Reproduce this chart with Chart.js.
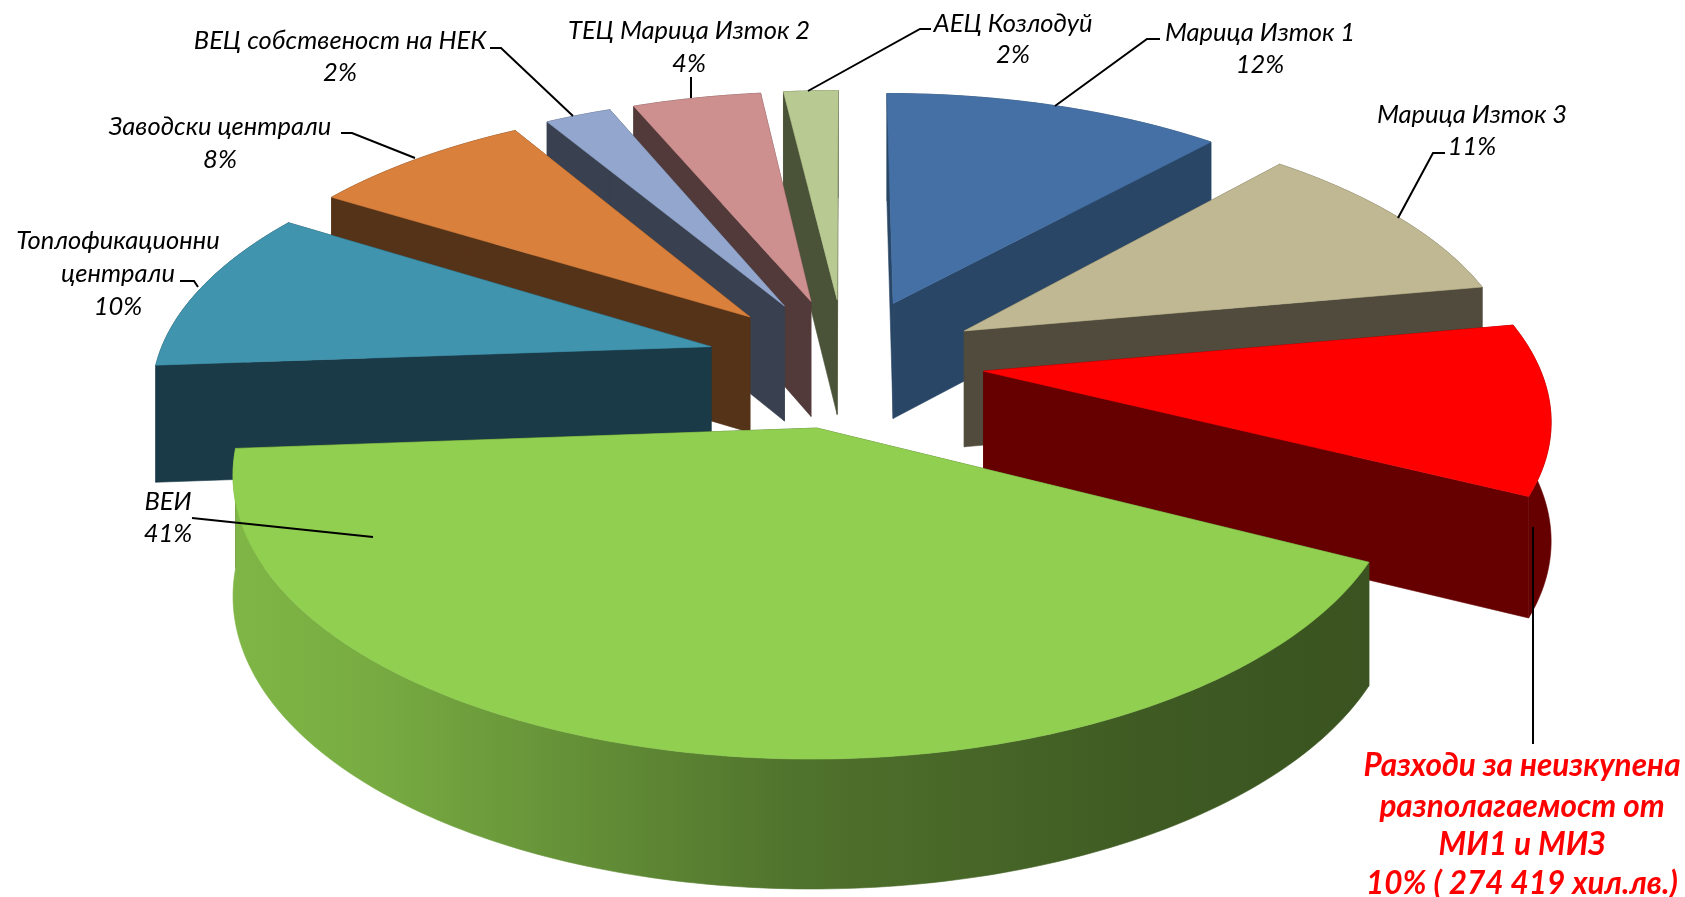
<!DOCTYPE html>
<html><head><meta charset="utf-8">
<style>html,body{margin:0;padding:0;background:#fff;overflow:hidden}#w{width:1685px;height:897px;position:relative}</style>
<script src="https://cdn.jsdelivr.net/npm/chart.js@4"></script>
</head><body><div id="w"><canvas id="c" width="1685" height="897"></canvas></div>
<script>
const categories = ['Марица Изток 1','Марица Изток 3','Разходи за неизкупена разполагаемост от МИ1 и МИЗ','ВЕИ','Топлофикационни централи','Заводски централи','ВЕЦ собственост на НЕК','ТЕЦ Марица Изток 2','АЕЦ Козлодуй'];
const shares = [11.65,10.45,10.28,41.47,9.99,7.59,2.28,4.42,1.87];
const sliceColors = ['#4570a5','#bfb892','#ff0000','#90cf50','#4094ae','#d8803c','#93a7ce','#ce8f8f','#b8ca91'];
const wallColors = ['#294666','#504b3c','#660000','#3c5220','#1a3a47','#553318','#39404f','#533a3a','#4a5238'];

// view of the tilted pie
const VIEW = {scale:2.3, tilt:0.466, depth:3650, wall:117, wallPow:0.5};
const OFFSET = 242;

function project(el, a, r, drop){
  const off = (el.options.offset||0)/4*VIEW.scale;
  const mid = (el.startAngle+el.endAngle)/2;
  const u = off*Math.cos(mid) + r*Math.cos(a);
  const v = off*Math.sin(mid) + r*Math.sin(a);
  const s = 1/(1 - v/VIEW.depth);
  const h = drop ? VIEW.wall*Math.pow(s,VIEW.wallPow) : 0;
  return [el.x + u*s, el.y + VIEW.tilt*v*s + h];
}
function poly(ctx, pts, fill){
  ctx.beginPath();
  pts.forEach((p,i)=> i?ctx.lineTo(p[0],p[1]):ctx.moveTo(p[0],p[1]));
  ctx.closePath();
  ctx.fillStyle=fill; ctx.strokeStyle=fill; ctx.lineWidth=0.6;
  ctx.fill(); ctx.stroke();
}
function shadeHex(hex,k){
  const n=parseInt(hex.slice(1),16);
  return `rgb(${Math.round((n>>16&255)*k)},${Math.round((n>>8&255)*k)},${Math.round((n&255)*k)})`;
}
class Arc3D extends Chart.ArcElement{
  draw(ctx){
    const R=this.outerRadius*VIEW.scale, a0=this.startAngle, a1=this.endAngle;
    const N=Math.max(12,Math.ceil((a1-a0)*60));
    const topRim=[], lowRim=[];
    for(let i=0;i<=N;i++){
      const a=a0+(a1-a0)*i/N;
      topRim.push(project(this,a,R,false));
      lowRim.push(project(this,a,R,true));
    }
    const apexT=project(this,a0,0,false), apexB=project(this,a0,0,true);
    const top=this.options.backgroundColor, wall=this.options.borderColor;
    ctx.save();
    // cut faces, back one first
    const faces=[[topRim[0],lowRim[0]],[topRim[N],lowRim[N]]];
    faces.sort((p,q)=>p[0][1]-q[0][1]);
    faces.forEach(f=>poly(ctx,[apexT,f[0],f[1],apexB],wall));
    // outer rim
    let rimFill=wall;
    if(a1-a0>Math.PI/2){
      const xs=lowRim.map(p=>p[0]), x0=Math.min(...xs), x1=Math.max(...xs);
      const g=ctx.createLinearGradient(x0,0,x1,0);
      g.addColorStop(0,shadeHex(top,.88)); g.addColorStop(.12,shadeHex(top,.83));
      g.addColorStop(.5,shadeHex(top,.55)); g.addColorStop(.8,shadeHex(top,.44)); g.addColorStop(1,shadeHex(top,.40));
      rimFill=g;
    }
    poly(ctx,topRim.concat(lowRim.slice().reverse()),rimFill);
    // top face
    poly(ctx,[apexT].concat(topRim),top);
    ctx.restore();
  }
}
Arc3D.id='arc3d';
class Pie3D extends Chart.PieController{
  draw(){
    const meta=this.getMeta(), ctx=this._ctx;
    const key=el=>Math.sin((el.startAngle+el.endAngle)/2);
    meta.data.slice().sort((p,q)=>key(p)-key(q)).forEach(el=>el.draw(ctx));
  }
}
Pie3D.id='pie3d';
Pie3D.defaults=Object.assign({},Chart.PieController.defaults,{dataElementType:'arc3d'});
Chart.register(Arc3D,Pie3D);

const annotations=[
 {lines:['Марица Изток 1','12%'],x:1260,ys:[33,65],lead:[[1160,39],[1147,39],[1055,106]]},
 {lines:['Марица Изток 3','11%'],x:1472,ys:[115,147],lead:[[1445,153],[1433,153],[1398,218]]},
 {lines:['ВЕИ','41%'],x:168,ys:[502,534],lead:[[192,518],[373,537]]},
 {lines:['Топлофикационни','централи','10%'],x:118,ys:[241,274,307],lead:[[180,281],[194,281],[198,287]]},
 {lines:['Заводски централи','8%'],x:220,ys:[127,160],lead:[[341,133],[352,133],[415,158]]},
 {lines:['ВЕЦ собственост на НЕК','2%'],x:340,ys:[41,73],lead:[[490,48],[501,48],[573,116]]},
 {lines:['ТЕЦ Марица Изток 2','4%'],x:689,ys:[31,64],lead:[[691,77],[691,98]]},
 {lines:['АЕЦ Козлодуй','2%'],x:1013,ys:[24,55],lead:[[931,29],[920,29],[808,91]]},
 {lines:['Разходи за неизкупена','разполагаемост от','МИ1 и МИЗ','10% ( 274 419 хил.лв.)'],x:1522,ys:[766,807,845,884],lead:[[1533,527],[1533,744]],hot:true}
];
const labelPlugin={id:'labels',afterDraw(chart){
  const ctx=chart.ctx; ctx.save();
  annotations.forEach(a=>{
    ctx.beginPath(); a.lead.forEach((p,i)=>i?ctx.lineTo(p[0],p[1]):ctx.moveTo(p[0],p[1]));
    ctx.strokeStyle='#000'; ctx.lineWidth=2; ctx.stroke();
  });
  ctx.textAlign='center'; ctx.textBaseline='middle';
  annotations.forEach(a=>{
    ctx.font=a.hot?'italic 700 31.5px Lato, "Open Sans", sans-serif':'italic 400 25.5px Lato, "Open Sans", sans-serif';
    ctx.fillStyle=a.hot?'#ff0000':'#000';
    a.lines.forEach((t,i)=>ctx.fillText(t,a.x,a.ys[i]));
  });
  ctx.restore();
}};
new Chart(document.getElementById('c'),{
  type:'pie3d',
  data:{labels:categories,datasets:[{data:shares,backgroundColor:sliceColors,borderColor:wallColors,borderWidth:0,offset:OFFSET}]},
  options:{responsive:false,animation:false,events:[],
    layout:{padding:{left:5,right:0,top:0,bottom:173}},
    plugins:{legend:{display:false},tooltip:{enabled:false}}},
  plugins:[labelPlugin]
});
</script></body></html>
